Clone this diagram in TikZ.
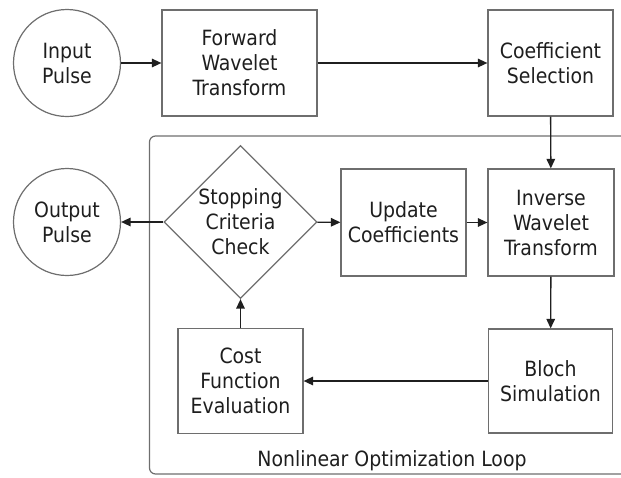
\documentclass[tikz,border=0pt]{standalone}
\usepackage{fontspec}
\setmainfont{DejaVu Sans Condensed}
\usetikzlibrary{shapes.geometric,arrows.meta}
\definecolor{ln}{HTML}{6E6E6E}
\definecolor{tx}{HTML}{1E1E1E}
\begin{document}
\begin{tikzpicture}[x=1pt,y=-1pt,
  every node/.style={font=\fontsize{21}{25}\selectfont, text=tx, align=center, inner sep=0pt},
  box/.style={draw=ln, line width=1.2pt, rectangle},
  circ/.style={draw=ln, line width=1.2pt, circle, minimum size=107pt},
  dia/.style={draw=ln, line width=1.2pt, diamond, minimum width=153pt, minimum height=153pt, aspect=1},
  conn/.style={draw=black!88, line width=1.4pt, -{Triangle[length=9.5pt,width=8.5pt]}}
]
\useasboundingbox (0,0) rectangle (621,477);
% loop frame
\draw[ln, line width=1.2pt, rounded corners=6pt] (621,136) -- (149.5,136) -- (149.5,474) -- (621,474);
\node (lab) at (392,461) {Nonlinear Optimization Loop};

\node[circ] (in) at (67,63) {Input\\Pulse};
\node[box, minimum width=155pt, minimum height=106pt] (fwt) at (239.5,63) {Forward\\Wavelet\\Transform};
\node[box, minimum width=125pt, minimum height=106pt] (cs) at (550.5,63) {Coefficient\\Selection};

\node[circ] (out) at (67,222) {Output\\Pulse};
\node[dia] (stop) at (240.5,222) {Stopping\\Criteria\\Check};
\node[box, minimum width=125pt, minimum height=107pt] (upd) at (403.5,222.5) {Update\\Coefficients};
\node[box, minimum width=126pt, minimum height=107pt] (iwt) at (551,222.5) {Inverse\\Wavelet\\Transform};

\node[box, minimum width=125pt, minimum height=105pt] (cost) at (240.5,381) {Cost\\Function\\Evaluation};
\node[box, minimum width=124pt, minimum height=104pt] (bloch) at (550.5,381) {Bloch\\Simulation};

\draw[conn] (in) -- (fwt);
\draw[conn] (fwt) -- (cs);
\draw[conn] (cs) -- (iwt);
\draw[conn] (stop) -- (upd);
\draw[conn] (upd) -- (iwt);
\draw[conn] (stop) -- (out);
\draw[conn] (iwt) -- (bloch);
\draw[conn] (bloch) -- (cost);
\draw[conn] (cost) -- (stop);
\end{tikzpicture}
\end{document}
